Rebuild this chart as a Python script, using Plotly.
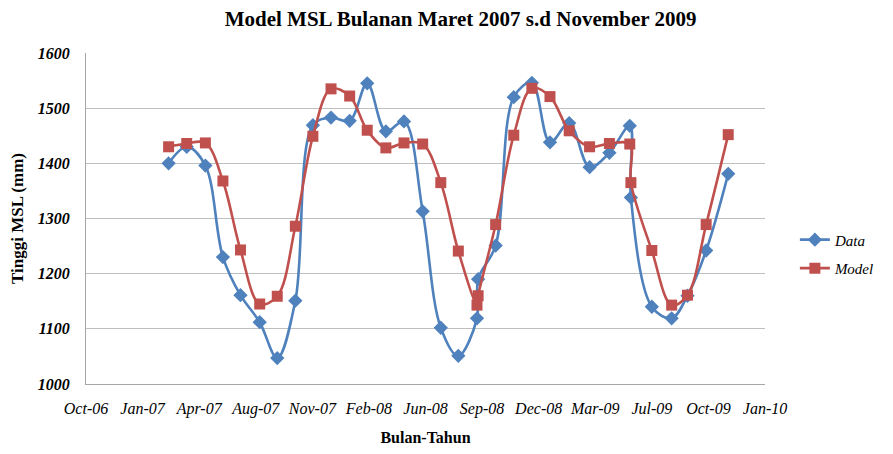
import plotly.graph_objects as go

dates = [
    "2007-03-05", "2007-04-06", "2007-05-09", "2007-06-09", "2007-07-10", "2007-08-13",
    "2007-09-13", "2007-10-15", "2007-11-15", "2007-12-17", "2008-01-19", "2008-02-19",
    "2008-03-23", "2008-04-24", "2008-05-27", "2008-06-28", "2008-07-29", "2008-08-31",
    "2008-09-02", "2008-10-03", "2008-11-04", "2008-12-06", "2009-01-07", "2009-02-10",
    "2009-03-18", "2009-04-22", "2009-05-28", "2009-05-30", "2009-07-06", "2009-08-10",
    "2009-09-07", "2009-10-10", "2009-11-18",
]

data_values = [
    1400, 1430, 1396, 1230, 1161, 1112, 1047, 1151, 1469, 1483, 1477, 1545,
    1458, 1476, 1313, 1102, 1051, 1119, 1190, 1251, 1520, 1546, 1438, 1473,
    1393, 1419, 1468, 1338, 1140, 1119, 1160, 1242, 1381,
]

model_values = [
    1430, 1436, 1437, 1368, 1243, 1145, 1159, 1286, 1449, 1535, 1522, 1460,
    1428, 1437, 1435, 1365, 1241, 1143, 1160, 1289, 1451, 1536, 1521, 1459,
    1430, 1436, 1435, 1365, 1242, 1143, 1161, 1289, 1452,
]

x_tick_dates = [
    "2006-10-10", "2007-01-18", "2007-04-28", "2007-08-06", "2007-11-14", "2008-02-22",
    "2008-06-01", "2008-09-09", "2008-12-18", "2009-03-28", "2009-07-06", "2009-10-14",
    "2010-01-22",
]
x_tick_labels = [
    "Oct-06", "Jan-07", "Apr-07", "Aug-07", "Nov-07", "Feb-08", "Jun-08",
    "Sep-08", "Dec-08", "Mar-09", "Jul-09", "Oct-09", "Jan-10",
]

series_names = ["Data", "Model"]

title_text = "Model MSL Bulanan Maret 2007 s.d November 2009"
x_title = "Bulan-Tahun"
y_title = "Tinggi MSL (mm)"

BLUE = "#4F81BD"
RED = "#C0504D"
SERIF = "Liberation Serif"

fig = go.Figure()
fig.add_trace(go.Scatter(
    x=dates, y=data_values, name=series_names[0], mode="lines+markers", legendgroup="d",
    line=dict(color=BLUE, width=2.6, shape="spline", smoothing=1.0),
    marker=dict(symbol="diamond", size=11, color=BLUE),
))
fig.add_trace(go.Scatter(
    x=dates, y=model_values, name=series_names[1], mode="lines+markers", legendgroup="m",
    line=dict(color=RED, width=2.6, shape="spline", smoothing=1.0),
    marker=dict(symbol="square", size=11, color=RED),
))

# The page adds an 8px body margin, so the figure is sized to fit inside the window.
fig.update_layout(
    template="none",
    width=877, height=438,
    margin=dict(l=78, r=120, t=45, b=62, autoexpand=False),
    paper_bgcolor="white", plot_bgcolor="white",
    font=dict(family=SERIF, color="black"),
    title=dict(text=title_text, x=0.516, xanchor="center", y=0.975, yanchor="middle",
               font=dict(family=SERIF, size=21, weight="bold", color="black")),
    showlegend=True,
    legend=dict(x=1.044, y=0.393, xanchor="left", yanchor="middle",
                font=dict(family=SERIF, size=15, style="italic", color="black"),
                bgcolor="rgba(0,0,0,0)", tracegroupgap=6, itemwidth=30),
    xaxis=dict(
        type="date", automargin=False,
        range=["2006-10-10", "2010-01-22"],
        tickmode="array", tickvals=x_tick_dates, ticktext=x_tick_labels,
        showgrid=False, zeroline=False,
        showline=True, linecolor="#A6A6A6", linewidth=1,
        ticks="outside", ticklen=10, tickcolor="rgba(0,0,0,0)",
        tickfont=dict(family=SERIF, size=16, style="italic", color="black"),
        title=dict(text=x_title, standoff=17,
                   font=dict(family=SERIF, size=16, weight="bold", color="black")),
    ),
    yaxis=dict(
        automargin=False,
        range=[1000, 1600], dtick=100, tick0=1000,
        showgrid=True, gridcolor="#BFBFBF", gridwidth=1,
        zeroline=False,
        showline=True, linecolor="#A6A6A6", linewidth=1,
        ticks="outside", ticklen=12, tickcolor="rgba(0,0,0,0)",
        tickfont=dict(family=SERIF, size=16, style="italic", weight="bold", color="black"),
        title=dict(text=y_title, standoff=9,
                   font=dict(family=SERIF, size=17, weight="bold", color="black")),
    ),
)

fig.write_html("out.html")
